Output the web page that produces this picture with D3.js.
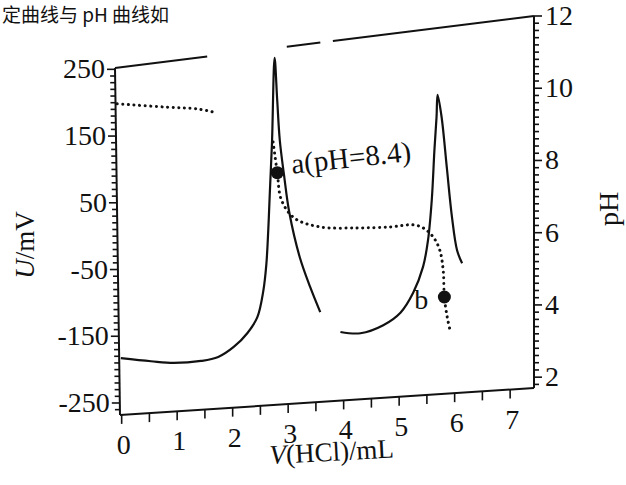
<!DOCTYPE html>
<html>
<head>
<meta charset="utf-8">
<script src="https://cdn.jsdelivr.net/npm/d3@7"></script>
<style>
  body { margin: 0; background: #fff; }
  svg { display: block; }
  text { font-family: "Liberation Serif", "Times New Roman", serif; fill: #111; }
</style>
</head>
<body>
<svg id="chart" width="626" height="485"></svg>
<script>
// potential curve U/mV vs V(HCl)/mL, null = break in the printed line
const uVolume = [0, 0.54, 0.95, 1.44, 1.75, 2.03, 2.28, 2.46, 2.57, 2.63, 2.67, 2.70, 2.75, 2.81, 2.85, 2.89, 2.96, 3.05, 3.23, 3.41, 3.59,
  null,
  3.95, 4.31, 4.72, 5.03, 5.26, 5.44, 5.53, 5.60, 5.65, 5.69, 5.71, 5.78, 5.87, 5.96, 6.05, 6.14]
const uValue = [-183, -191, -196, -196, -192, -179, -160, -138, -101, -62, -12, 36, 114, 238, 176, 117, 66, 10, -56, -100, -138,
  null,
  -169, -173, -164, -148, -121, -85, -48, 9, 79, 126, 157, 125, 53, -18, -66, -85]

// pH curve (dotted)
const phVolume = [0, 0.85, 1.44, 1.71,
  null,
  2.77, 2.84, 2.91, 3.14, 3.59, 4.26, 4.85, 5.26, 5.44, 5.62, 5.74, 5.80, 5.82, 5.87, 5.92]
const phValue = [10.93, 10.67, 10.50, 10.36,
  null,
  9.30, 8.40, 7.60, 7.04, 6.72, 6.59, 6.53, 6.53, 6.42, 6.14, 5.75, 5.18, 4.42, 3.85, 3.48]

const markNames = ['a(pH=8.4)', 'b']
const markVolume = [2.84, 5.82]
const markPH = [8.4, 4.42]

const vTicks = [0, 1, 2, 3, 4, 5, 6, 7]
const uTicks = [-250, -150, -50, 50, 150, 250]
const phTicks = [2, 4, 6, 8, 10, 12]

const svg = d3.select('#chart')

// the printed page is scanned at a slant: the plot frame is a quadrilateral
const corner = {tl: [115, 68], tr: [534, 16], bl: [120, 415], br: [534, 388]}
function warp (u, v) {
  const top = [corner.tl[0] + (corner.tr[0] - corner.tl[0]) * u, corner.tl[1] + (corner.tr[1] - corner.tl[1]) * u]
  const bot = [corner.bl[0] + (corner.br[0] - corner.bl[0]) * u, corner.bl[1] + (corner.br[1] - corner.bl[1]) * u]
  return [top[0] + (bot[0] - top[0]) * v, top[1] + (bot[1] - top[1]) * v]
}

const x = d3.scaleLinear().domain([-0.03, 7.43]).range([0, 1])
const yU = d3.scaleLinear().domain([-268, 252]).range([1, 0])
const yPH = d3.scaleLinear().domain([1.7, 12.0]).range([1, 0])

const ink = '#111'

// text from the page above the figure
svg.append('text')
  .attr('x', 2).attr('y', 22)
  .style('font-family', '"Noto Sans CJK SC", sans-serif')
  .style('font-size', '19px')
  .text('定曲线与 pH 曲线如')

// frame
const frame = svg.append('g').attr('fill', 'none').attr('stroke', ink).attr('stroke-width', 2)
function edge (u0, v0, u1, v1) {
  const p = warp(u0, v0), q = warp(u1, v1)
  frame.append('line').attr('x1', p[0]).attr('y1', p[1]).attr('x2', q[0]).attr('y2', q[1])
}
edge(0, 0, 0, 1)
edge(0, 1, 1, 1)
edge(1, 0, 1, 1)
edge(0, 0, 0.22, 0)   // top edge is broken in the scan
edge(0.41, 0, 0.49, 0)
edge(0.52, 0, 1, 0)

// bottom axis ticks
const ticks = svg.append('g').attr('stroke', ink).attr('stroke-width', 1.6)
d3.range(0, 7.01, 0.5).forEach(t => {
  const p = warp(x(t), 1)
  ticks.append('line').attr('x1', p[0]).attr('y1', p[1]).attr('x2', p[0]).attr('y2', p[1] + 9)
})
vTicks.forEach(t => {
  const p = warp(x(t), 1)
  svg.append('text').attr('x', p[0] + 2).attr('y', p[1] + 39)
    .attr('text-anchor', 'middle').style('font-size', '28px').text(t)
})

// left axis ticks
d3.range(-260, 251, 10).forEach(t => {
  const p = warp(0, yU(t))
  const len = uTicks.includes(t) ? 8 : 5
  ticks.append('line').attr('x1', p[0]).attr('y1', p[1]).attr('x2', p[0] - len).attr('y2', p[1])
})
uTicks.forEach(t => {
  const p = warp(0, yU(t))
  svg.append('text').attr('x', p[0] - 10).attr('y', p[1] + 9)
    .attr('text-anchor', 'end').style('font-size', '28px').text(t)
})

// right axis ticks
d3.range(1.8, 12.01, 0.2).forEach(t => {
  const p = warp(1, yPH(t))
  const major = phTicks.some(m => Math.abs(m - t) < 1e-6)
  ticks.append('line').attr('x1', p[0]).attr('y1', p[1]).attr('x2', p[0] + (major ? 8 : 5)).attr('y2', p[1])
})
phTicks.forEach(t => {
  const p = warp(1, yPH(t))
  svg.append('text').attr('x', p[0] + 11).attr('y', p[1] + 9)
    .attr('text-anchor', 'start').style('font-size', '28px').text(t)
})

// axis titles
const xTitle = svg.append('text')
  .attr('transform', 'translate(270,464) rotate(-3)')
  .style('font-size', '27px')
xTitle.append('tspan').style('font-style', 'italic').text('V')
xTitle.append('tspan').text('(HCl)/mL')

const uTitle = svg.append('text')
  .attr('transform', 'translate(34,245) rotate(-90)')
  .attr('text-anchor', 'middle')
  .style('font-size', '27px')
uTitle.append('tspan').style('font-style', 'italic').text('U')
uTitle.append('tspan').text('/mV')

svg.append('text')
  .attr('transform', 'translate(618,209) rotate(-90)')
  .attr('text-anchor', 'middle')
  .style('font-size', '28px')
  .text('pH')

// curves
function project (vols, vals, yScale) {
  return vols.map((v, i) => v === null ? null : warp(x(v), yScale(vals[i])))
}
const line = d3.line()
  .defined(d => d !== null)
  .curve(d3.curveCatmullRom.alpha(0.5))

svg.append('path')
  .attr('d', line(project(uVolume, uValue, yU)))
  .attr('fill', 'none').attr('stroke', ink).attr('stroke-width', 2.2)

svg.append('path')
  .attr('d', line(project(phVolume, phValue, yPH)))
  .attr('fill', 'none').attr('stroke', ink).attr('stroke-width', 3)
  .attr('stroke-linecap', 'round').attr('stroke-dasharray', '0.1 5.5')

// marked points
markVolume.forEach((v, i) => {
  const p = warp(x(v), yPH(markPH[i]))
  svg.append('circle').attr('cx', p[0]).attr('cy', p[1]).attr('r', 6.5).attr('fill', ink)
})
const pa = warp(x(markVolume[0]), yPH(markPH[0]))
svg.append('text')
  .attr('transform', `translate(${pa[0] + 15},${pa[1] + 1}) rotate(-6)`)
  .style('font-size', '29px').text(markNames[0])
const pb = warp(x(markVolume[1]), yPH(markPH[1]))
svg.append('text')
  .attr('x', pb[0] - 30).attr('y', pb[1] + 12)
  .style('font-size', '28px').text(markNames[1])
</script>
</body>
</html>
